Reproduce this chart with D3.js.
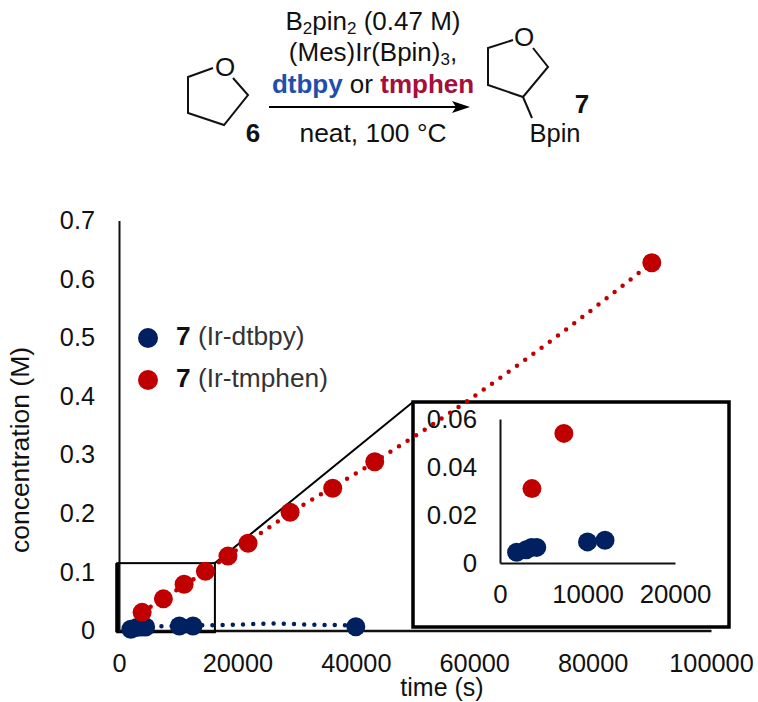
<!DOCTYPE html>
<html>
<head>
<meta charset="utf-8">
<script src="https://cdnjs.cloudflare.com/ajax/libs/d3/7.8.5/d3.min.js"></script>
<style>
  html, body { margin: 0; padding: 0; background: #fff; }
  text { font-family: "Liberation Sans", Arial, sans-serif; fill: #111; }
</style>
</head>
<body>
<div id="chart"></div>
<script>
const xTicks = [0, 20000, 40000, 60000, 80000, 100000]
const yTicks = [0, 0.1, 0.2, 0.3, 0.4, 0.5, 0.6, 0.7]
const insetXTicks = [0, 10000, 20000]
const insetYTicks = [0, 0.02, 0.04, 0.06]

const blueTime = [2000, 3000, 3800, 4500, 10200, 12500, 40000]
const blueConc = [0.002, 0.005, 0.006, 0.006, 0.0077, 0.0077, 0.0065]
const redTime = [3900, 7500, 11000, 14600, 18400, 21800, 28900, 36100, 43200, 90000]
const redConc = [0.031, 0.054, 0.079, 0.101, 0.127, 0.149, 0.202, 0.243, 0.288, 0.628]

// dotted trend lines
const blueFitTime = [2000, 10000, 20000, 26000, 32000, 40000]
const blueFitConc = [0.006, 0.008, 0.01, 0.012, 0.01, 0.009]
const redFitTime = [3900, 14600, 28900, 43200, 60000, 75000, 90000]
const redFitConc = [0.031, 0.101, 0.2, 0.288, 0.4, 0.51, 0.628]

const insetBlueTime = [1900, 3000, 3600, 4200, 10000, 12000]
const insetBlueConc = [0.0045, 0.0055, 0.0065, 0.0065, 0.0088, 0.0095]
const insetRedTime = [3650, 7300]
const insetRedConc = [0.031, 0.054]

const navy = '#002060'
const red = '#c00000'
const axisColor = '#111'
const tickSize = 25.3

const width = 758
const height = 702

const svg = d3.select('#chart').append('svg')
  .attr('width', width)
  .attr('height', height)
  .style('display', 'block')

// main chart
const x = d3.scaleLinear().domain([0, 100000]).range([119, 711])
const y = d3.scaleLinear().domain([0, 0.7]).range([630.5, 220.5])

const xAxis = svg.append('g')
  .attr('transform', 'translate(0,' + y(0) + ')')
  .call(d3.axisBottom(x).tickValues(xTicks).tickSize(0).tickPadding(23.5).tickFormat(d3.format('d')))
const yAxis = svg.append('g')
  .attr('transform', 'translate(' + x(0) + ',0)')
  .call(d3.axisLeft(y).tickValues(yTicks).tickSize(0).tickPadding(24).tickFormat(d => d === 0 ? '0' : d3.format('.1f')(d)))

function styleAxis (g, size, w) {
  g.selectAll('path').attr('stroke', axisColor).attr('stroke-width', w)
  g.selectAll('text').attr('font-size', size).attr('font-family', '"Liberation Sans", Arial, sans-serif').attr('fill', '#111')
}
styleAxis(xAxis, tickSize, 2.5)
styleAxis(yAxis, tickSize, 2)

svg.append('text')
  .attr('x', 442).attr('y', 696)
  .attr('text-anchor', 'middle')
  .attr('font-size', 25)
  .text('time (s)')
svg.append('text')
  .attr('transform', 'translate(29,450) rotate(-90)')
  .attr('text-anchor', 'middle')
  .attr('font-size', 26.5)
  .text('concentration (M)')

// zoom box and connector
const boxLeft = x(-300)
const boxRight = x(16200)
const boxTop = y(0.115)
const boxBottom = y(-0.003)
svg.append('rect')
  .attr('x', boxLeft).attr('y', boxTop)
  .attr('width', boxRight - boxLeft).attr('height', boxBottom - boxTop)
  .attr('fill', 'none').attr('stroke', '#000').attr('stroke-width', 2)
svg.append('line')
  .attr('x1', boxLeft).attr('y1', boxTop).attr('x2', boxLeft).attr('y2', boxBottom)
  .attr('stroke', '#000').attr('stroke-width', 4)

const insetBox = { x: 413, y: 402, w: 316, h: 225 }
svg.append('line')
  .attr('x1', boxRight).attr('y1', boxTop).attr('x2', insetBox.x).attr('y2', insetBox.y)
  .attr('stroke', '#000').attr('stroke-width', 2)
svg.append('rect')
  .attr('x', insetBox.x).attr('y', insetBox.y)
  .attr('width', insetBox.w).attr('height', insetBox.h)
  .attr('fill', '#fff').attr('stroke', '#000').attr('stroke-width', 3.5)

// inset
const ix = d3.scaleLinear().domain([0, 20000]).range([500, 675])
const iy = d3.scaleLinear().domain([0, 0.06]).range([563, 419])

const ixAxis = svg.append('g')
  .attr('transform', 'translate(0,' + iy(0) + ')')
  .call(d3.axisBottom(ix).tickValues(insetXTicks).tickSize(0).tickPadding(22).tickFormat(d3.format('d')))
const iyAxis = svg.append('g')
  .attr('transform', 'translate(' + ix(0) + ',0)')
  .call(d3.axisLeft(iy).tickValues(insetYTicks).tickSize(0).tickPadding(23).tickFormat(d => d === 0 ? '0' : d3.format('.2f')(d)))
styleAxis(ixAxis, 25.8, 2)
styleAxis(iyAxis, 25.8, 2)

function drawPoints (g, xs, ys, sx, sy, color, r) {
  g.selectAll(null)
    .data(xs.map((d, i) => [d, ys[i]]))
    .enter()
    .append('circle')
    .attr('cx', d => sx(d[0]))
    .attr('cy', d => sy(d[1]))
    .attr('r', r)
    .attr('fill', color)
}

const insetMarks = svg.append('g')
drawPoints(insetMarks, insetBlueTime, insetBlueConc, ix, iy, navy, 9.5)
drawPoints(insetMarks, insetRedTime, insetRedConc, ix, iy, red, 9.5)

// trend lines
function drawTrend (xs, ys, color) {
  const line = d3.line().x(d => x(d[0])).y(d => y(d[1])).curve(d3.curveMonotoneX)
  svg.append('path')
    .attr('d', line(xs.map((d, i) => [d, ys[i]])))
    .attr('fill', 'none')
    .attr('stroke', color)
    .attr('stroke-width', 4.5)
    .attr('stroke-linecap', 'round')
    .attr('stroke-dasharray', '0 10.2')
}
drawTrend(blueFitTime, blueFitConc, navy)
drawTrend(redFitTime, redFitConc, red)

const marks = svg.append('g')
drawPoints(marks, blueTime, blueConc, x, y, navy, 9.5)
drawPoints(marks, redTime, redConc, x, y, red, 9.5)

// legend
const legendRows = [
  { label: '(Ir-dtbpy)', color: navy, cy: 338 },
  { label: '(Ir-tmphen)', color: red, cy: 380 }
]
legendRows.forEach(d => {
  svg.append('circle').attr('cx', 148).attr('cy', d.cy).attr('r', 10).attr('fill', d.color)
  const t = svg.append('text').attr('x', 176).attr('y', d.cy + 7).attr('font-size', 26.3)
  t.append('tspan').attr('font-weight', 'bold').text('7')
  t.append('tspan').attr('fill', '#333').text('\u00a0' + d.label)
})

// reaction scheme
const bond = d3.line()
function drawBond (pts) {
  svg.append('path').attr('d', bond(pts)).attr('fill', 'none')
    .attr('stroke', '#111').attr('stroke-width', 2).attr('stroke-linejoin', 'miter')
}
drawBond([[213, 68], [188, 77], [188, 113], [224, 125], [248, 95], [233, 78]])
drawBond([[513, 40], [488, 48], [488, 85], [523, 97], [548, 67], [533, 48]])
drawBond([[523, 97], [532, 118]])

function schemeText (str, tx, ty, size, weight, color) {
  return svg.append('text')
    .attr('x', tx).attr('y', ty)
    .attr('text-anchor', 'middle')
    .attr('font-size', size)
    .attr('font-weight', weight || 'normal')
    .attr('fill', color || '#111')
    .text(str)
}
schemeText('O', 225, 76, 26)
schemeText('O', 524, 46, 26)
schemeText('6', 253, 142, 26, 'bold')
schemeText('7', 582, 113, 26, 'bold')
schemeText('Bpin', 555, 142, 25.5)

const l1 = schemeText('', 373, 30, 26)
l1.append('tspan').text('B')
l1.append('tspan').attr('font-size', 17).attr('dy', 4).text('2')
l1.append('tspan').attr('dy', -4).text('pin')
l1.append('tspan').attr('font-size', 17).attr('dy', 4).text('2')
l1.append('tspan').attr('dy', -4).text(' (0.47 M)')

const l2 = schemeText('', 373, 61, 26)
l2.append('tspan').text('(Mes)Ir(Bpin)')
l2.append('tspan').attr('font-size', 17).attr('dy', 4).text('3')
l2.append('tspan').attr('dy', -4).text(',')

const l3 = schemeText('', 373, 93, 26)
l3.append('tspan').attr('font-weight', 'bold').attr('fill', '#1f4fae').text('dtbpy')
l3.append('tspan').text(' or ')
l3.append('tspan').attr('font-weight', 'bold').attr('fill', '#a50f3c').text('tmphen')

schemeText('neat, 100 \u00b0C', 373, 142, 26.4)

svg.append('line')
  .attr('x1', 269).attr('y1', 107).attr('x2', 458).attr('y2', 107)
  .attr('stroke', '#000').attr('stroke-width', 2)
svg.append('path')
  .attr('d', 'M470,107L452,101L456,107L452,113Z')
  .attr('fill', '#000')
</script>
</body>
</html>
